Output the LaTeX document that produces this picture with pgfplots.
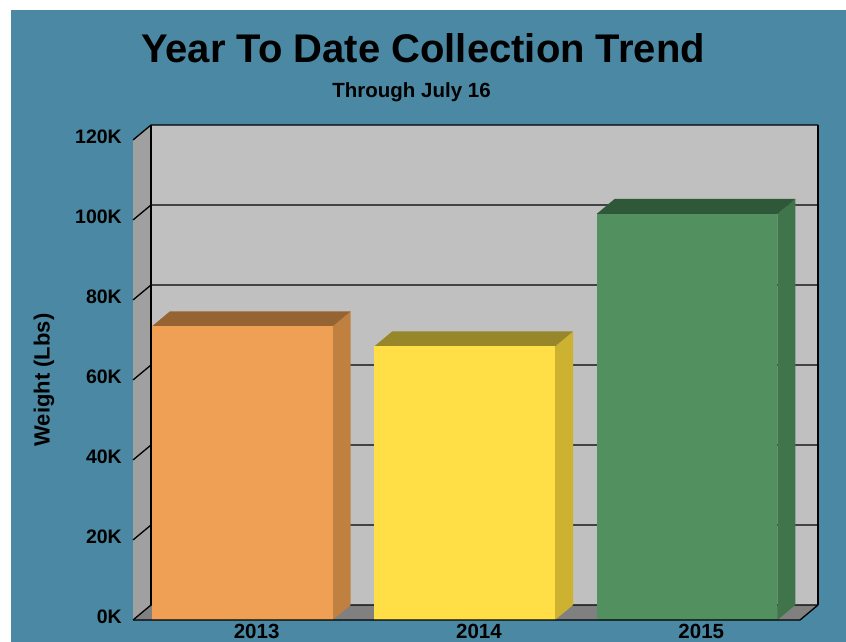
\documentclass[border=0pt]{standalone}
\usepackage{fontspec}
\setmainfont{Liberation Sans}
\usepackage{pgfplots}
\pgfplotsset{compat=1.18}
\definecolor{bgblue}{HTML}{4A88A3}
\definecolor{backwall}{HTML}{C0C0C0}
\definecolor{leftwall}{HTML}{A0A0A0}
\definecolor{floorc}{HTML}{808080}
\definecolor{orF}{HTML}{F0A055}
\definecolor{orT}{HTML}{966432}
\definecolor{orS}{HTML}{C08040}
\definecolor{yeF}{HTML}{FFDF45}
\definecolor{yeT}{HTML}{98862A}
\definecolor{yeS}{HTML}{CDB232}
\definecolor{grF}{HTML}{529060}
\definecolor{grT}{HTML}{2E5838}
\definecolor{grS}{HTML}{40744A}
\begin{document}
\begin{tikzpicture}[x=1pt,y=1pt]
\path[use as bounding box] (0,0) rectangle (846,642);
\fill[white] (0,0) rectangle (846,642);
\fill[bgblue] (11,0) rectangle (846,632);
\node[font=\bfseries\fontsize{40}{48}\selectfont, anchor=base] at (423,579) {Year To Date Collection Trend};
\node[font=\bfseries\fontsize{20.5}{24}\selectfont, anchor=base] at (411.5,544) {Through July 16};
\node[font=\bfseries\fontsize{22}{26}\selectfont, rotate=90] at (44,262) {Weight (Lbs)};
\begin{axis}[
  at={(133pt,22pt)}, anchor=south west,
  scale only axis, width=667pt, height=480pt,
  xmin=-0.5, xmax=2.5, ymin=0, ymax=120,
  clip=false,
  axis line style={draw=none},
  major tick length=0pt,
  ytick={0,20,40,60,80,100,120},
  yticklabels={0K,20K,40K,60K,80K,100K,120K},
  xtick={0.056,1.056,2.056},
  xticklabels={2013,2014,2015},
  yticklabel style={font=\bfseries\fontsize{19.5}{22}\selectfont, anchor=east, inner sep=0pt, xshift=-11pt, yshift=3pt},
  xticklabel style={font=\bfseries\fontsize{20.5}{22}\selectfont, anchor=north, inner sep=0pt, yshift=-4pt},
]
% walls and floor
\addplot[fill=backwall, draw=none] coordinates {(-0.419,3.75) (2.581,3.75) (2.581,123.75) (-0.419,123.75)} -- cycle;
\addplot[fill=leftwall, draw=none] coordinates {(-0.5,0) (-0.419,3.75) (-0.419,123.75) (-0.5,120)} -- cycle;
\addplot[fill=floorc, draw=none] coordinates {(-0.5,0) (2.5,0) (2.581,3.75) (-0.419,3.75)} -- cycle;
% grid lines
\addplot[black, line width=1.3pt] coordinates {(-0.5,0) (-0.419,3.75) (2.581,3.75)};
\addplot[black, line width=1.3pt] coordinates {(-0.5,20) (-0.419,23.75) (2.581,23.75)};
\addplot[black, line width=1.3pt] coordinates {(-0.5,40) (-0.419,43.75) (2.581,43.75)};
\addplot[black, line width=1.3pt] coordinates {(-0.5,60) (-0.419,63.75) (2.581,63.75)};
\addplot[black, line width=1.3pt] coordinates {(-0.5,80) (-0.419,83.75) (2.581,83.75)};
\addplot[black, line width=1.3pt] coordinates {(-0.5,100) (-0.419,103.75) (2.581,103.75)};
\addplot[black, line width=1.3pt] coordinates {(-0.5,120) (-0.419,123.75) (2.581,123.75)};
\addplot[black, line width=1.3pt] coordinates {(-0.419,3.75) (-0.419,123.75)};
\addplot[black, line width=2.2pt] coordinates {(2.581,3.75) (2.581,123.75)};
% bar 2013
\addplot[fill=orS, draw=none] coordinates {(0.398,0) (0.398,73.4) (0.479,77.15) (0.479,3.75)} -- cycle;
\addplot[fill=orT, draw=none] coordinates {(-0.415,73.4) (0.398,73.4) (0.479,77.15) (-0.334,77.15)} -- cycle;
\addplot[ybar, bar width=180.8pt, bar shift=-1.9pt, fill=orF, draw=none] coordinates {(0,73.4)};
% bar 2014
\addplot[fill=yeS, draw=none] coordinates {(1.398,0) (1.398,68.4) (1.479,72.15) (1.479,3.75)} -- cycle;
\addplot[fill=yeT, draw=none] coordinates {(0.585,68.4) (1.398,68.4) (1.479,72.15) (0.666,72.15)} -- cycle;
\addplot[ybar, bar width=180.8pt, bar shift=-1.9pt, fill=yeF, draw=none] coordinates {(1,68.4)};
% bar 2015
\addplot[fill=grS, draw=none] coordinates {(2.398,0) (2.398,101.5) (2.479,105.25) (2.479,3.75)} -- cycle;
\addplot[fill=grT, draw=none] coordinates {(1.585,101.5) (2.398,101.5) (2.479,105.25) (1.666,105.25)} -- cycle;
\addplot[ybar, bar width=180.8pt, bar shift=-1.9pt, fill=grF, draw=none] coordinates {(2,101.5)};
% floor front edge
\addplot[black, line width=1.3pt] coordinates {(-0.5,0) (2.5,0) (2.581,3.75)};
\end{axis}
\end{tikzpicture}
\end{document}
